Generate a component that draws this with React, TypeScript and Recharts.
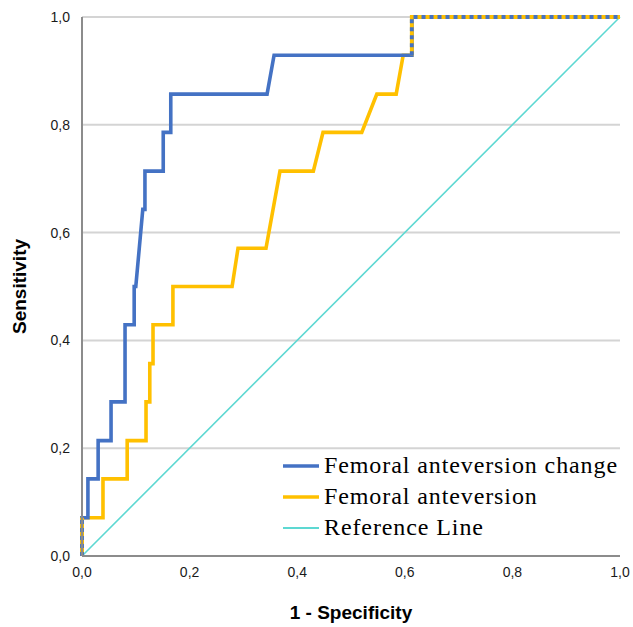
import { LineChart, Line, XAxis, YAxis, CartesianGrid } from "recharts";

// ROC points (1 - specificity, sensitivity)
const changeFpr = [0, 0, 0.011, 0.011, 0.03, 0.03, 0.054, 0.054, 0.08, 0.08, 0.097, 0.097, 0.1, 0.113, 0.117, 0.117, 0.151, 0.151, 0.165, 0.165, 0.344, 0.357, 0.613, 0.613, 1];
const changeTpr = [0, 0.071, 0.071, 0.143, 0.143, 0.214, 0.214, 0.286, 0.286, 0.429, 0.429, 0.5, 0.5, 0.643, 0.643, 0.714, 0.714, 0.786, 0.786, 0.857, 0.857, 0.929, 0.929, 1, 1];

const anteFpr = [0, 0, 0.039, 0.039, 0.084, 0.084, 0.119, 0.119, 0.126, 0.126, 0.132, 0.132, 0.169, 0.169, 0.279, 0.29, 0.342, 0.368, 0.43, 0.448, 0.52, 0.548, 0.584, 0.597, 0.613, 0.613, 1];
const anteTpr = [0, 0.071, 0.071, 0.143, 0.143, 0.214, 0.214, 0.286, 0.286, 0.357, 0.357, 0.429, 0.429, 0.5, 0.5, 0.571, 0.571, 0.714, 0.714, 0.786, 0.786, 0.857, 0.857, 0.929, 0.929, 1, 1];

// segments where both curves coincide (drawn dotted two-tone)
const sharedLowFpr = [0, 0];
const sharedLowTpr = [0, 0.071];
const sharedTopFpr = [0.613, 0.613, 1];
const sharedTopTpr = [0.929, 1, 1];

const refFpr = [0, 1];
const refTpr = [0, 1];

const ticks = [0, 0.2, 0.4, 0.6, 0.8, 1];

const seriesNames = ["Femoral anteversion change", "Femoral anteversion", "Reference Line"];
const seriesColors = ["#4472C4", "#FFC000", "#5DD8D2"];

const toPoints = (xs: number[], ys: number[]) => xs.map((x, i) => ({ x, y: ys[i] }));

const fmt = (v: number) => v.toFixed(1).replace(".", ",");

const tickStyle = { fontFamily: "Liberation Sans, Arial, sans-serif", fontSize: 14, fill: "#1a1a1a" };

function LegendBox() {
  return (
    <div
      style={{
        position: "absolute",
        left: 281,
        top: 450,
        fontFamily: "Liberation Serif, Times New Roman, serif",
        fontSize: 24,
        color: "#000",
      }}
    >
      {seriesNames.map((n, i) => (
        <div key={n} style={{ display: "flex", alignItems: "center", height: 31 }}>
          <svg width={40} height={10}>
            <line x1={2} y1={5} x2={38} y2={5} stroke={seriesColors[i]} strokeWidth={i === 2 ? 2 : 3.4} />
          </svg>
          <span style={{ marginLeft: 3, letterSpacing: 0.9 }}>{n}</span>
        </div>
      ))}
    </div>
  );
}

export default function App() {
  return (
    <div style={{ position: "absolute", left: 0, top: 0, width: 633, height: 627, background: "#fff" }}>
      <LineChart width={633} height={627} margin={{ top: 17, right: 13, bottom: 0, left: 0 }}>
        <CartesianGrid vertical={false} stroke="#d4d4d4" strokeWidth={2} />
        <XAxis
          dataKey="x"
          type="number"
          domain={[0, 1]}
          ticks={ticks}
          tickFormatter={fmt}
          tickLine={false}
          axisLine={{ stroke: "#8c8c8c", strokeWidth: 2 }}
          tick={tickStyle}
          tickMargin={5}
          height={71}
          label={{
            value: "1 - Specificity",
            position: "insideBottom",
            offset: 8,
            style: { fontFamily: "Liberation Sans, Arial, sans-serif", fontSize: 19, fontWeight: "bold", fill: "#000" },
          }}
        />
        <YAxis
          type="number"
          domain={[0, 1]}
          ticks={ticks}
          tickFormatter={fmt}
          tickLine={false}
          axisLine={{ stroke: "#8c8c8c", strokeWidth: 2 }}
          tick={tickStyle}
          tickMargin={6}
          width={82}
          label={{
            value: "Sensitivity",
            angle: -90,
            position: "insideLeft",
            offset: 19,
            style: { fontFamily: "Liberation Sans, Arial, sans-serif", fontSize: 19, fontWeight: "bold", fill: "#000", textAnchor: "middle" },
          }}
        />
        <Line data={toPoints(refFpr, refTpr)} dataKey="y" stroke={seriesColors[2]} strokeWidth={1.6} dot={false} isAnimationActive={false} />
        <Line data={toPoints(anteFpr, anteTpr)} dataKey="y" stroke={seriesColors[1]} strokeWidth={3.6} dot={false} isAnimationActive={false} />
        <Line data={toPoints(changeFpr, changeTpr)} dataKey="y" stroke={seriesColors[0]} strokeWidth={3.6} dot={false} isAnimationActive={false} />
        <Line data={toPoints(sharedLowFpr, sharedLowTpr)} dataKey="y" stroke={seriesColors[1]} strokeWidth={3.8} dot={false} isAnimationActive={false} />
        <Line data={toPoints(sharedLowFpr, sharedLowTpr)} dataKey="y" stroke={seriesColors[0]} strokeWidth={3.8} strokeDasharray="4 4" dot={false} isAnimationActive={false} />
        <Line data={toPoints(sharedTopFpr, sharedTopTpr)} dataKey="y" stroke={seriesColors[1]} strokeWidth={3.8} dot={false} isAnimationActive={false} />
        <Line data={toPoints(sharedTopFpr, sharedTopTpr)} dataKey="y" stroke={seriesColors[0]} strokeWidth={3.8} strokeDasharray="4 4" dot={false} isAnimationActive={false} />
      </LineChart>
      <LegendBox />
    </div>
  );
}
